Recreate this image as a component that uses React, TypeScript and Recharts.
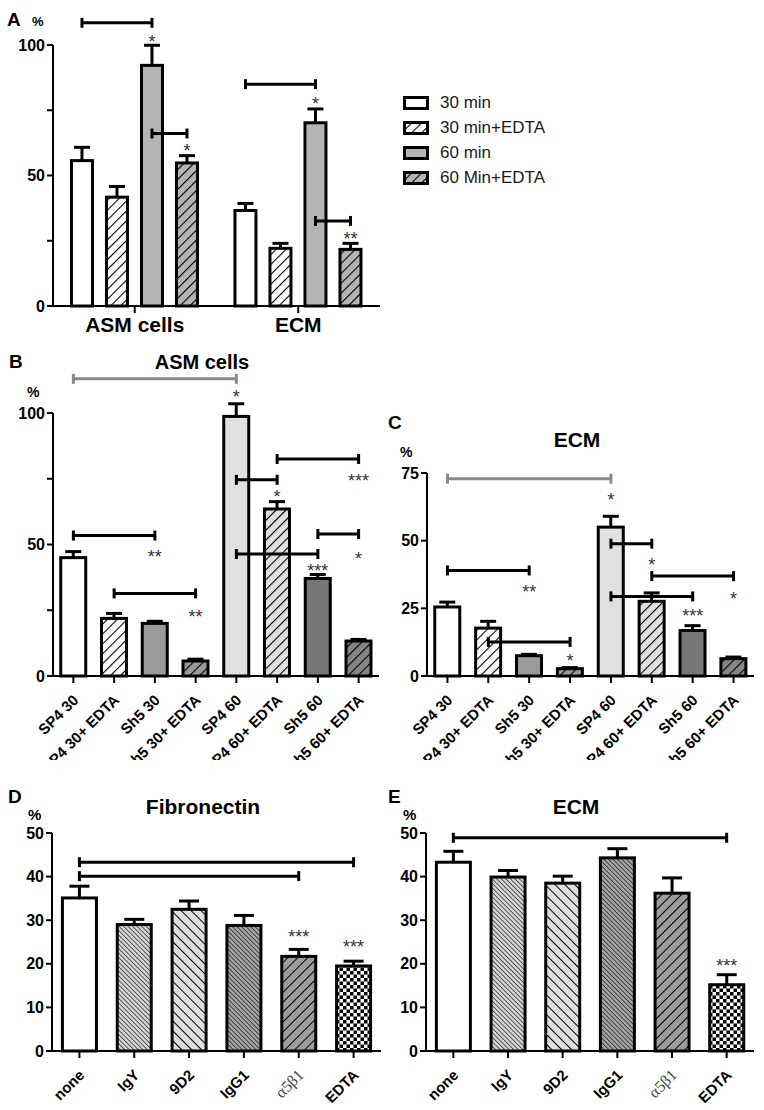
import React from "react";
import { BarChart, Bar, XAxis, YAxis, ReferenceLine, ReferenceDot, Cell, Legend } from "recharts";

const FONT = "'Liberation Sans', Arial, Helvetica, sans-serif";

// ---- panel A: adhesion at 30 / 60 min, +/- EDTA
const groupsA = ["ASM cells", "ECM"];
const min30 = [55.7, 36.6];
const min30Sem = [5.1, 2.7];
const min30Edta = [41.7, 22.1];
const min30EdtaSem = [4.1, 1.9];
const min60 = [92.2, 70.2];
const min60Sem = [7.7, 5.3];
const min60Edta = [54.8, 21.7];
const min60EdtaSem = [2.8, 2.3];
const seriesA = ["30 min", "30 min+EDTA", "60 min", "60 Min+EDTA"];

// ---- panels B / C: SP4 vs Sh5
const catsBC = ["SP4 30", "SP4 30+ EDTA", "Sh5 30", "Sh5 30+ EDTA", "SP4 60", "SP4 60+ EDTA", "Sh5 60", "Sh5 60+ EDTA"];
const asmVals = [45.0, 21.9, 20.0, 5.7, 98.7, 63.5, 37.1, 13.3];
const asmSem = [2.3, 1.9, 0.8, 0.7, 4.8, 2.8, 1.5, 0.6];
const ecmVals = [25.5, 17.7, 7.5, 2.7, 55.0, 27.6, 16.8, 6.4];
const ecmSem = [1.8, 2.5, 0.5, 0.4, 4.0, 3.1, 1.8, 0.6];

// ---- panels D / E: blocking antibodies
const catsDE = ["none", "IgY", "9D2", "IgG1", "α5β1", "EDTA"];
const fnVals = [35.1, 29.0, 32.5, 28.8, 21.7, 19.5];
const fnSem = [2.7, 1.2, 1.9, 2.3, 1.6, 1.1];
const ecm2Vals = [43.3, 39.9, 38.5, 44.3, 36.2, 15.2];
const ecm2Sem = [2.5, 1.5, 1.6, 2.1, 3.5, 2.3];

// significance brackets (bar index from/to, level in axis units) and stars
type Br = { from: number; to: number; y: number; grey?: boolean };
type St = { at: number; y: number; text: string };

const bracketsA = [
  { g: 0, from: 0, to: 2, y: 108.5 },
  { g: 0, from: 2, to: 3, y: 66.1 },
  { g: 1, from: 0, to: 2, y: 85.0 },
  { g: 1, from: 2, to: 3, y: 32.6 },
];
const starsA = [
  { g: 0, k: 2, y: 102.8, text: "*" },
  { g: 0, k: 3, y: 61.0, text: "*" },
  { g: 1, k: 2, y: 78.9, text: "*" },
  { g: 1, k: 3, y: 27.2, text: "**" },
];
const bracketsB: Br[] = [
  { from: 0, to: 4, y: 113, grey: true },
  { from: 5, to: 7, y: 82.5 },
  { from: 4, to: 5, y: 74.6 },
  { from: 0, to: 2, y: 53.4 },
  { from: 6, to: 7, y: 54 },
  { from: 4, to: 6, y: 46.4 },
  { from: 1, to: 3, y: 31.4 },
];
const starsB: St[] = [
  { at: 4, y: 107.6, text: "*" },
  { at: 7, y: 75.8, text: "***" },
  { at: 5, y: 69.6, text: "*" },
  { at: 2, y: 46.8, text: "**" },
  { at: 7, y: 46, text: "*" },
  { at: 6, y: 41.5, text: "***" },
  { at: 3, y: 23.9, text: "**" },
];
const bracketsC: Br[] = [
  { from: 0, to: 4, y: 72.9, grey: true },
  { from: 4, to: 5, y: 48.9 },
  { from: 0, to: 2, y: 39.0 },
  { from: 5, to: 7, y: 36.9 },
  { from: 4, to: 6, y: 29.4 },
  { from: 1, to: 3, y: 12.6 },
];
const starsC: St[] = [
  { at: 4, y: 66.7, text: "*" },
  { at: 5, y: 42.7, text: "*" },
  { at: 2, y: 32.7, text: "**" },
  { at: 7, y: 30.2, text: "*" },
  { at: 6, y: 23.6, text: "***" },
  { at: 3, y: 7.3, text: "*" },
];
const bracketsD: Br[] = [
  { from: 0, to: 5, y: 43.3 },
  { from: 0, to: 4, y: 40.1 },
];
const starsD: St[] = [
  { at: 4, y: 27.2, text: "***" },
  { at: 5, y: 24.8, text: "***" },
];
const bracketsE: Br[] = [{ from: 0, to: 5, y: 48.9 }];
const starsE: St[] = [{ at: 5, y: 20.4, text: "***" }];

// fills
const fillsA = ["#ffffff", "url(#hW)", "#b4b4b4", "url(#hA)"];
const fillsBC = ["#ffffff", "url(#hW)", "#9a9a9a", "url(#hG)", "#e0e0e0", "url(#hL)", "#767676", "url(#hD)"];
const fillsDE = ["#ffffff", "url(#dL)", "url(#bL)", "url(#dD)", "url(#fG)", "url(#chk)"];

const AX = { stroke: "#000", strokeWidth: 2 };
const Y_TICK = { fontFamily: FONT, fontSize: 16, fontWeight: 700, fill: "#000" };

// bar with upper SEM whisker, scaled from the bar's own pixel height
const errShape = (valKey: string, semKey: string, cap: number) => (p: any) => {
  const { x, y, width, height, fill, payload } = p;
  const v = payload[valKey];
  const ppu = v ? height / v : 0;
  const top = y - payload[semKey] * ppu;
  const cx = x + width / 2;
  return (
    <g>
      <line x1={cx} x2={cx} y1={y} y2={top} stroke="#000" strokeWidth={3} />
      <line x1={cx - cap} x2={cx + cap} y1={top} y2={top} stroke="#000" strokeWidth={3} />
      <rect x={x} y={y} width={width} height={height} fill={fill} stroke="#000" strokeWidth={3} />
    </g>
  );
};

const starShape = (text: string) => (p: any) => (
  <text x={p.cx} y={p.cy} dy="0.57em" textAnchor="middle" fontFamily={FONT} fontSize={18} fill="#333">
    {text}
  </text>
);

// rotated category label, anchored at its end near the tick
const RotTick = (p: any) => {
  const v = p.payload.value;
  const greek = v === "α5β1";
  return (
    <g transform={`translate(${p.x + 6}, ${p.y + 16})`}>
      <g transform="rotate(-45)">
        <text
          x={0}
          y={0}
          textAnchor="end"
          fontFamily={greek ? "'Liberation Serif', serif" : FONT}
          fontSize={greek ? 16 : 15}
          fontWeight={greek ? 400 : 700}
          fill={greek ? "#444" : "#000"}
        >
          {v}
        </text>
      </g>
    </g>
  );
};

function bracketLines(brs: any[], xOf: (i: number, b: any) => any, cap: number, axisId?: any) {
  const out: any[] = [];
  brs.forEach((b, i) => {
    const stroke = b.grey ? "#8a8a8a" : "#000";
    const x1 = xOf(b.from, b);
    const x2 = xOf(b.to, b);
    const common: any = { stroke, strokeWidth: 3, ifOverflow: "visible" };
    if (axisId !== undefined) common.xAxisId = axisId;
    out.push(<ReferenceLine key={`m${i}`} {...common} segment={[{ x: x1, y: b.y }, { x: x2, y: b.y }]} />);
    out.push(<ReferenceLine key={`l${i}`} {...common} segment={[{ x: x1, y: b.y - cap }, { x: x1, y: b.y + cap }]} />);
    out.push(<ReferenceLine key={`r${i}`} {...common} segment={[{ x: x2, y: b.y - cap }, { x: x2, y: b.y + cap }]} />);
  });
  return out;
}

// ---- panel A geometry for bracket positions on a hidden 0..1 numeric axis
const A_W = 570, A_YW = 53, A_MR = 190;
const A_GAPFRAC = 0.113, A_BARGAP = 14;
const A_BAND = (A_W - A_YW - A_MR) / groupsA.length;
const A_BARW = Math.floor((A_BAND * (1 - 2 * A_GAPFRAC) - 3 * A_BARGAP) / 4);
const barCenterA = (g: number, k: number) =>
  (g + (A_BAND * A_GAPFRAC + k * (A_BARW + A_BARGAP) + A_BARW / 2) / A_BAND) / groupsA.length;

const keysA = ["m30", "m30e", "m60", "m60e"];

const legendA = (props: any) => (
  <div style={{ fontFamily: FONT, fontSize: 17, color: "#1a1a1a" }}>
    {(props.payload || []).map((e: any) => {
      const idx = keysA.indexOf(e.dataKey);
      return (
        <div key={e.value} style={{ display: "flex", alignItems: "center", height: 25 }}>
          <svg width={26} height={14} style={{ marginRight: 11 }}>
            <rect x={1.5} y={1.5} width={23} height={11} fill={fillsA[idx]} stroke="#000" strokeWidth={3} />
          </svg>
          <span>{e.value}</span>
        </div>
      );
    })}
  </div>
);

function PanelA() {
  const data = groupsA.map((g, i) => ({
    grp: g,
    m30: min30[i], m30s: min30Sem[i],
    m30e: min30Edta[i], m30es: min30EdtaSem[i],
    m60: min60[i], m60s: min60Sem[i],
    m60e: min60Edta[i], m60es: min60EdtaSem[i],
  }));
  return (
    <div style={{ position: "absolute", left: 0, top: 0 }}>
      <BarChart
        width={A_W}
        height={340}
        data={data}
        margin={{ top: 45, right: A_MR, bottom: 0, left: 0 }}
        barCategoryGap={`${A_GAPFRAC * 100}%`}
        barGap={A_BARGAP}
      >
        <XAxis
          dataKey="grp"
          height={34}
          tickSize={7}
          tickMargin={4}
          axisLine={AX}
          tickLine={AX}
          tick={{ fontFamily: FONT, fontSize: 21, fontWeight: 700, fill: "#000" }}
        />
        <XAxis xAxisId="n" type="number" domain={[0, 1]} allowDataOverflow hide />
        <YAxis
          width={A_YW}
          domain={[0, 100]}
          ticks={[0, 25, 50, 75, 100]}
          interval={0}
          tickFormatter={(v) => ([0, 50, 100].includes(v) ? String(v) : "")}
          tickSize={6}
          axisLine={AX}
          tickLine={AX}
          tick={Y_TICK}
        />
        {keysA.map((vk, i) => (
          <Bar
            key={vk}
            dataKey={vk}
            name={seriesA[i]}
            fill={fillsA[i]}
            isAnimationActive={false}
            shape={errShape(vk, vk + "s", 8)}
          />
        ))}
        <Legend
          layout="vertical"
          align="center"
          verticalAlign="middle"
          content={legendA}
          itemSorter={(item: any) => keysA.indexOf(item.dataKey)}
          wrapperStyle={{ left: 403, top: 90, width: 170 }}
        />
        {bracketLines(bracketsA, (k, b) => barCenterA(b.g, k), 1.9, "n")}
        {starsA.map((s, i) => (
          <ReferenceDot
            key={`s${i}`}
            xAxisId="n"
            x={barCenterA(s.g, s.k)}
            y={s.y}
            r={0}
            ifOverflow="visible"
            shape={starShape(s.text)}
          />
        ))}
      </BarChart>
    </div>
  );
}

function Panel(props: any) {
  const { left, top, width, height, yw, mt, mr, xh, cats, vals, sems, fills, domain, ticks, shown, brackets, stars, cap, errCap } = props;
  const data = cats.map((c: string, i: number) => ({ cat: c, v: vals[i], sem: sems[i] }));
  return (
    <div style={{ position: "absolute", left, top }}>
      <BarChart width={width} height={height} data={data} margin={{ top: mt, right: mr, bottom: 0, left: 0 }} barCategoryGap="19%">
        <XAxis
          dataKey="cat"
          height={xh}
          interval={0}
          tickSize={7}
          axisLine={AX}
          tickLine={AX}
          tick={(p: any) => <RotTick {...p} />}
        />
        <YAxis
          width={yw}
          domain={domain}
          ticks={ticks}
          interval={0}
          tickFormatter={(v) => (shown.includes(v) ? String(v) : "")}
          tickSize={6}
          axisLine={AX}
          tickLine={AX}
          tick={Y_TICK}
        />
        <Bar dataKey="v" isAnimationActive={false} shape={errShape("v", "sem", errCap)}>
          {cats.map((c: string, i: number) => (
            <Cell key={c} fill={fills[i]} />
          ))}
        </Bar>
        {bracketLines(brackets, (i) => cats[i], cap)}
        {stars.map((s: St, i: number) => (
          <ReferenceDot key={`s${i}`} x={cats[s.at]} y={s.y} r={0} ifOverflow="visible" shape={starShape(s.text)} />
        ))}
      </BarChart>
    </div>
  );
}

const hatch = (id: string, bg: string, size: number, sw: number, angle: number) => (
  <pattern id={id} width={size} height={size} patternUnits="userSpaceOnUse" patternTransform={`rotate(${angle})`}>
    <rect width={size} height={size} fill={bg} />
    <line x1={0} y1={0} x2={0} y2={size} stroke="#000" strokeWidth={sw} />
  </pattern>
);

const T = (p: any) => (
  <text x={p.x} y={p.y} textAnchor={p.anchor || "start"} fontFamily={FONT} fontSize={p.size} fontWeight={700} fill="#000">
    {p.children}
  </text>
);

export default function App() {
  return (
    <div style={{ position: "absolute", left: 0, top: 0, width: 764, height: 1110, background: "#fff", overflow: "hidden" }}>
      <svg width={764} height={1110} style={{ position: "absolute", left: 0, top: 0 }}>
        <defs>
          {hatch("hW", "#ffffff", 7, 2.2, 45)}
          {hatch("hA", "#b4b4b4", 7, 2.2, 45)}
          {hatch("hG", "#9a9a9a", 7, 2.2, 45)}
          {hatch("hL", "#e0e0e0", 7, 2.2, 45)}
          {hatch("hD", "#858585", 7, 2.2, 45)}
          {hatch("dL", "#d2d2d2", 3.2, 1.1, -45)}
          {hatch("bL", "#dedede", 7, 2, -45)}
          {hatch("dD", "#a2a2a2", 3.2, 1.1, -45)}
          {hatch("fG", "#9c9c9c", 7, 2, 45)}
          <pattern id="chk" width={7} height={7} patternUnits="userSpaceOnUse">
            <rect width={7} height={7} fill="#fff" />
            <rect width={3.5} height={3.5} fill="#000" />
            <rect x={3.5} y={3.5} width={3.5} height={3.5} fill="#000" />
          </pattern>
        </defs>
        <T x={7} y={26} size={19}>A</T>
        <T x={32} y={26} size={13}>%</T>
        <T x={9} y={368} size={19}>B</T>
        <T x={27} y={397} size={14}>%</T>
        <T x={202} y={369} size={20} anchor="middle">ASM cells</T>
        <T x={388} y={429} size={19}>C</T>
        <T x={400} y={457} size={14}>%</T>
        <T x={577} y={447} size={21} anchor="middle">ECM</T>
        <T x={8} y={803} size={19}>D</T>
        <T x={28} y={820} size={15}>%</T>
        <T x={203} y={814} size={21} anchor="middle">Fibronectin</T>
        <T x={388} y={803} size={19}>E</T>
        <T x={403} y={820} size={15}>%</T>
        <T x={576} y={814} size={21} anchor="middle">ECM</T>
      </svg>
      <PanelA />
      <Panel
        left={0} top={330} width={380} height={430} yw={53} mt={83} mr={1} xh={84}
        cats={catsBC} vals={asmVals} sems={asmSem} fills={fillsBC}
        domain={[0, 100]} ticks={[0, 25, 50, 75, 100]} shown={[0, 50, 100]}
        brackets={bracketsB} stars={starsB} cap={1.9} errCap={8}
      />
      <Panel
        left={380} top={330} width={384} height={430} yw={47} mt={143} mr={10} xh={84}
        cats={catsBC} vals={ecmVals} sems={ecmSem} fills={fillsBC}
        domain={[0, 75]} ticks={[0, 25, 50, 75]} shown={[0, 25, 50, 75]}
        brackets={bracketsC} stars={starsC} cap={1.85} errCap={8}
      />
      <Panel
        left={0} top={740} width={384} height={370} yw={52} mt={93} mr={3} xh={59}
        cats={catsDE} vals={fnVals} sems={fnSem} fills={fillsDE}
        domain={[0, 50]} ticks={[0, 10, 20, 30, 40, 50]} shown={[0, 10, 20, 30, 40, 50]}
        brackets={bracketsD} stars={starsD} cap={1.15} errCap={10}
      />
      <Panel
        left={380} top={740} width={384} height={370} yw={46} mt={93} mr={10} xh={59}
        cats={catsDE} vals={ecm2Vals} sems={ecm2Sem} fills={fillsDE}
        domain={[0, 50]} ticks={[0, 10, 20, 30, 40, 50]} shown={[0, 10, 20, 30, 40, 50]}
        brackets={bracketsE} stars={starsE} cap={1.15} errCap={10}
      />
    </div>
  );
}
